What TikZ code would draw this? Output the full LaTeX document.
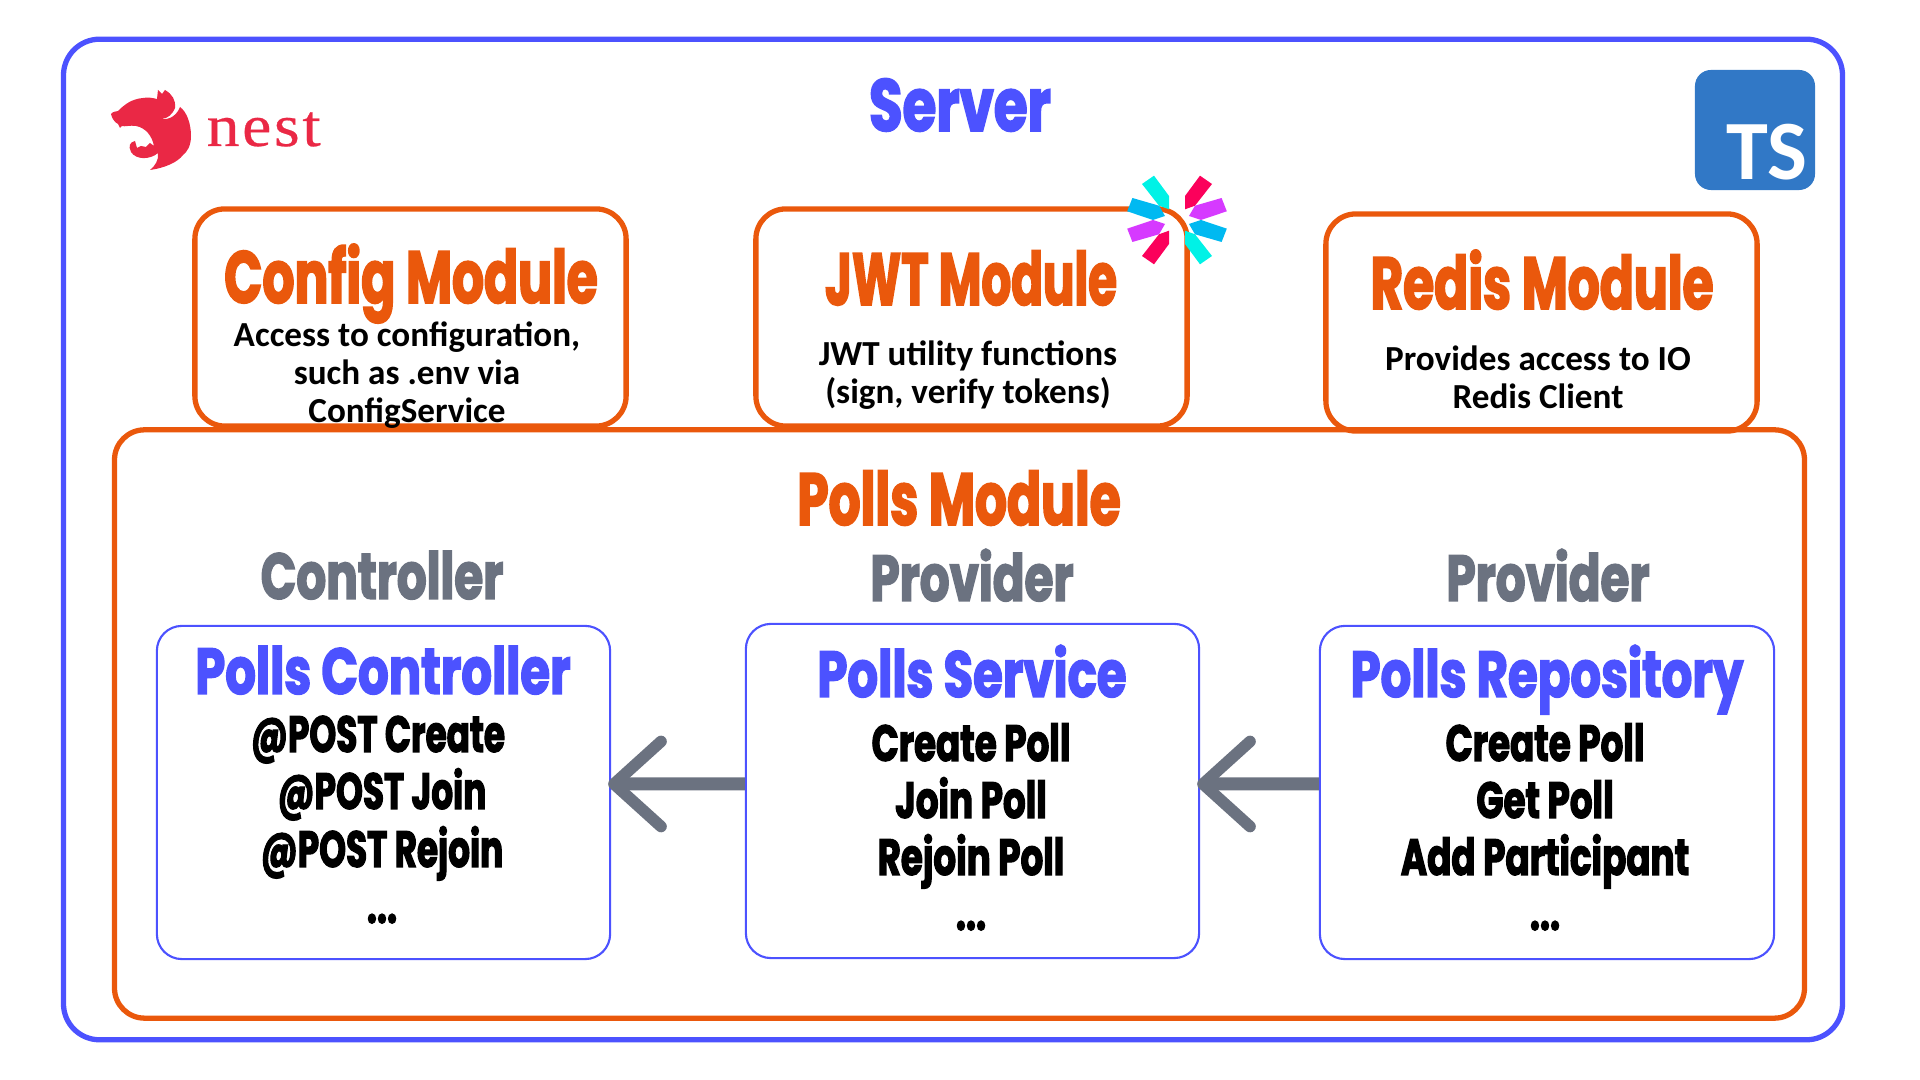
\documentclass[tikz,border=0pt]{standalone}
\usepackage{fontspec}
\usetikzlibrary{arrows.meta, positioning}
\setmainfont{Carlito}
\newfontfamily\headfont[FakeStretch=0.72, FakeBold=2.2]{Poppins Bold}
\newfontfamily\bigfont[FakeStretch=0.68, FakeBold=2.2]{Poppins Bold}
\newfontfamily\boxfont[FakeStretch=0.74, FakeBold=2.2]{Poppins Bold}
\newfontfamily\methodfont[FakeStretch=0.70, FakeBold=2.2]{Poppins Bold}
\newfontfamily\nestfont[FakeStretch=1.1, LetterSpace=4.5, FakeBold=0.4]{Liberation Serif}
\definecolor{serverBlue}{RGB}{76, 82, 255}
\definecolor{moduleOrange}{RGB}{234, 88, 12}
\definecolor{layerGray}{RGB}{107, 114, 128}
\definecolor{nestRed}{RGB}{234, 40, 69}
\definecolor{tsBlue}{RGB}{49, 120, 198}
\definecolor{jwtCyan}{RGB}{0, 242, 230}
\definecolor{jwtRed}{RGB}{251, 1, 91}
\definecolor{jwtPurple}{RGB}{214, 58, 255}
\definecolor{jwtBlue}{RGB}{0, 185, 241}
\tikzset{
  serverbox/.style={draw=serverBlue, line width=1.5pt, rounded corners=3.6mm},
  modulebox/.style={draw=moduleOrange, line width=1.5pt, rounded corners=3mm},
  layerbox/.style={draw=serverBlue, line width=0.6pt, rounded corners=2.5mm},
  bigtitle/.style={anchor=base, inner sep=0pt, text=moduleOrange, font=\bigfont\fontsize{21}{21}\selectfont},
  servertitle/.style={anchor=base, inner sep=0pt, text=serverBlue, font=\boxfont\fontsize{21}{21}\selectfont},
  layertitle/.style={anchor=base, inner sep=0pt, text=layerGray, font=\headfont\fontsize{18.5}{18.5}\selectfont},
  boxtitle/.style={anchor=base, inner sep=0pt, text=serverBlue, font=\boxfont\fontsize{18.5}{18.5}\selectfont},
  methodtext/.style={anchor=base, inner sep=0pt, text=black, font=\methodfont\fontsize{14.5}{14.5}\selectfont},
  bodytext/.style={anchor=base, inner sep=0pt, text=black, font=\bfseries\fontsize{10}{10}\selectfont},
  callarrow/.style={draw=layerGray, line width=3.7pt, -{Straight Barb[length=4.7mm, width=8.5mm, round, line width=3.3pt]}},
}

\begin{document}
\begin{tikzpicture}[x=0.01cm, y=-0.01cm]
  \useasboundingbox (0,0) rectangle (1920,1080);
  % outer frame
  \node[serverbox, minimum width=17.78cm, minimum height=10cm] (server) at (953,539.5) {};
  \node[servertitle] (servertitle) at (960,131) {Server};

  % nest logo
  \fill[nestRed] (111,114) .. controls (113,111) and (116,112) .. (118,111) .. controls (125,104) and (132,99) .. (143,98) .. controls (148,97) and (153,98) .. (157,99) -- (158,90) -- (162,94) -- (165,90) .. controls (172,94) and (176,100) .. (175,108) .. controls (172,115) and (168,118) .. (162,119) .. controls (170,120) and (177,115) .. (180,107) .. controls (187,112) and (191,124) .. (191,136) .. controls (191,146) and (187,152) .. (183,155) .. controls (178,162) and (165,168) .. (150,170) .. controls (155,166) and (159,160) .. (158,153) .. controls (150,160) and (136,160) .. (131,152) .. controls (128,146) and (130,142) .. (135,141) -- (137,148) -- (141,146) -- (146,147) -- (150,143) -- (154,146) .. controls (152,136) and (146,128) .. (136,126) .. controls (130,125) and (125,127) .. (122,126) -- (120,128) -- (118,124) .. controls (114,122) and (112,118) .. (111,114) -- cycle;
  \node[anchor=base west, inner sep=0pt, text=nestRed, font=\nestfont\fontsize{17}{17}\selectfont] (nest) at (206,146) {nest};

  % typescript logo
  \node[fill=tsBlue, rounded corners=1.6mm, minimum width=1.2cm, minimum height=1.2cm] (tslogo) at (1755,130) {};
  \node[anchor=base east, inner sep=0pt, text=white, font=\fontsize{24}{24}\selectfont\bfseries] (tstext) at (1808,180) {TS};

  % module boxes
  \node[modulebox, minimum width=4.31cm, minimum height=2.17cm] (configmodule) at (410.5,317.5) {};
  \node[modulebox, minimum width=4.31cm, minimum height=2.17cm] (jwtmodule) at (971.5,317.5) {};
  \node[modulebox, minimum width=4.31cm, minimum height=2.17cm] (redismodule) at (1541.5,322.5) {};
  \node[modulebox, minimum width=16.89cm, minimum height=5.88cm] (pollsmodule) at (959.5,724) {};

  % jwt logo
  \begin{scope}[shift={(1177,220)}]
    \foreach \sx/\sy/\colA/\colB in {1/1/jwtCyan/jwtBlue, -1/1/jwtRed/jwtPurple, 1/-1/jwtRed/jwtPurple, -1/-1/jwtCyan/jwtBlue}{
      \fill[\colA] (-35*\sx,-36*\sy) -- (-23*\sx,-44.3*\sy) -- (-8*\sx,-24*\sy) -- (-8*\sx,-10.7*\sy) -- (-18*\sx,-14.3*\sy) -- cycle;
      \fill[\colB] (-49.8*\sx,-8.7*\sy) -- (-44.6*\sx,-22*\sy) -- (-18*\sx,-14.3*\sy) -- (-12*\sx,-4*\sy) -- (-24*\sx,0) -- cycle;
    }
  \end{scope}

  % module texts
  \node[bigtitle] (configtitle) at (411,303) {Config Module};
  \node[bodytext] (configa) at (407,347) {Access to configuration,};
  \node[bodytext] (configb) at (407,385) {such as .env via};
  \node[bodytext] (configc) at (407,423) {ConfigService};
  \node[bigtitle] (jwttitle) at (971,305) {\scalebox{0.93}[1]{JWT Module}};
  \node[bodytext] (jwta) at (968,366) {JWT utility functions};
  \node[bodytext] (jwtb) at (968,404) {(sign, verify tokens)};
  \node[bigtitle] (redistitle) at (1542,309) {Redis Module};
  \node[bodytext] (redisa) at (1538,371) {Provides access to IO};
  \node[bodytext] (redisb) at (1538,409) {Redis Client};
  \node[bigtitle] (pollstitle) at (959,525) {Polls Module};

  % layers
  \node[layertitle] (controllerlabel) at (382,599) {Controller};
  \node[layertitle] (servicelabel) at (972,601) {Provider};
  \node[layertitle] (repolabel) at (1548,601) {Provider};
  \node[layerbox, minimum width=4.53cm, minimum height=3.33cm] (pollscontroller) at (383.5,792.5) {};
  \node[layerbox, minimum width=4.53cm, minimum height=3.34cm] (pollsservice) at (972.5,791) {};
  \node[layerbox, minimum width=4.54cm, minimum height=3.33cm] (pollsrepo) at (1547,792.5) {};

  \node[boxtitle] (controllertitle) at (383,694) {Polls Controller};
  \node[methodtext] (controllera) at (378,752) {\scalebox{0.96}[1]{@POST Create}};
  \node[methodtext] (controllerb) at (382,809) {\scalebox{0.96}[1]{@POST Join}};
  \node[methodtext] (controllerc) at (382,867) {\scalebox{0.96}[1]{@POST Rejoin}};
  \node[methodtext] (controllerd) at (382,923) {...};

  \node[boxtitle] (servicetitle) at (972,697) {Polls Service};
  \node[methodtext] (servicea) at (971,761) {Create Poll};
  \node[methodtext] (serviceb) at (971,818) {Join Poll};
  \node[methodtext] (servicec) at (971,875) {Rejoin Poll};
  \node[methodtext] (serviced) at (971,930) {...};

  \node[boxtitle] (repotitle) at (1547,697) {Polls Repository};
  \node[methodtext] (repoa) at (1545,761) {Create Poll};
  \node[methodtext] (repob) at (1545,818) {Get Poll};
  \node[methodtext] (repoc) at (1545,875) {Add Participant};
  \node[methodtext] (repod) at (1545,930) {...};

  \draw[callarrow] ([yshift=0.07cm]pollsservice.west) -- ([xshift=-0.03cm, yshift=0.085cm]pollscontroller.east);
  \draw[callarrow] ([yshift=0.085cm]pollsrepo.west) -- ([xshift=-0.03cm, yshift=0.07cm]pollsservice.east);
\end{tikzpicture}
\end{document}
